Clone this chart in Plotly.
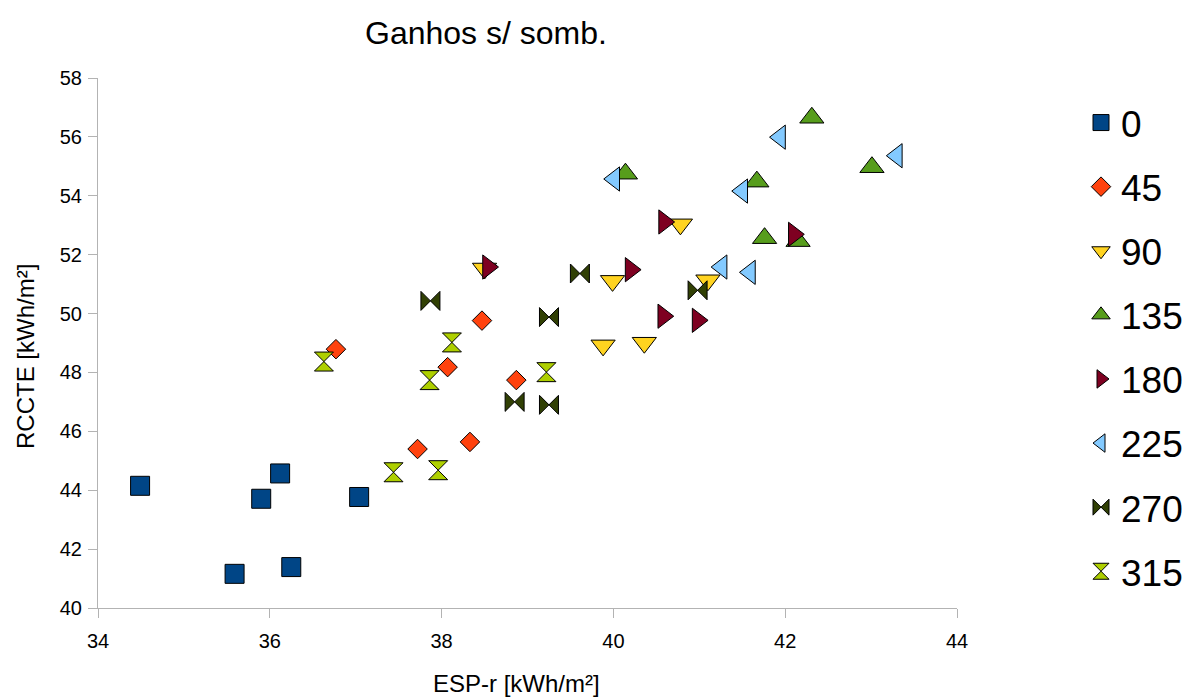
import plotly.graph_objects as go

# Data (ESP-r vs RCCTE, kWh/m²), by orientation
orientations = ["0", "45", "90", "135", "180", "225", "270", "315"]

x_0 = [34.49, 36.12, 35.90, 37.04, 35.59, 36.25]
y_0 = [44.15, 44.57, 43.71, 43.77, 41.16, 41.39]

x_45 = [36.77, 38.47, 38.07, 38.87, 38.33, 37.72]
y_45 = [48.79, 49.76, 48.18, 47.74, 45.64, 45.40]

x_90 = [38.50, 39.99, 39.88, 40.36, 40.78, 41.10]
y_90 = [51.53, 51.11, 48.92, 49.01, 53.03, 51.13]

x_135 = [42.31, 43.01, 40.14, 41.67, 41.76, 42.15]
y_135 = [56.65, 54.97, 54.75, 54.48, 52.56, 52.46]

x_180 = [38.54, 40.59, 40.20, 40.58, 40.98, 42.10]
y_180 = [51.58, 53.11, 51.49, 49.91, 49.77, 52.69]

x_225 = [41.94, 43.30, 40.01, 41.50, 41.26, 41.59]
y_225 = [55.99, 55.36, 54.57, 54.16, 51.58, 51.40]

x_270 = [37.87, 39.25, 38.85, 39.25, 39.61, 40.98]
y_270 = [50.43, 49.88, 47.00, 46.90, 51.36, 50.79]

x_315 = [36.63, 38.12, 37.86, 39.22, 37.44, 37.96]
y_315 = [48.37, 49.02, 47.74, 48.01, 44.61, 44.68]

x_ticks = [34, 36, 38, 40, 42, 44]
y_ticks = [40, 42, 44, 46, 48, 50, 52, 54, 56, 58]

xs = [x_0, x_45, x_90, x_135, x_180, x_225, x_270, x_315]
ys = [y_0, y_45, y_90, y_135, y_180, y_225, y_270, y_315]
colors = ["#004586", "#ff420e", "#ffd320", "#579d1c", "#7e0021", "#83caff", "#314004", "#aecf00"]
symbols = ["square", "diamond", "triangle-down", "triangle-up", "triangle-right",
           "triangle-left", "bowtie", "hourglass"]
sizes = [19, 15, 21, 21, 21, 21, 19, 19]

FONT = "Liberation Sans, Arial, sans-serif"

W, H = 1186, 697
plot_l, plot_r, plot_t, plot_b = 98, 957, 78, 608
pw, ph = plot_r - plot_l, plot_b - plot_t

def px_to_paper(sx, sy):
    return (sx - plot_l) / pw, (plot_b - sy) / ph

fig = go.Figure()
for name, xv, yv, c, s, sz in zip(orientations, xs, ys, colors, symbols, sizes):
    fig.add_trace(go.Scatter(
        x=xv, y=yv, mode="markers", name=name, legendgroup=name,
        marker=dict(symbol=s, size=sz, color=c, line=dict(color="#000000", width=1)),
    ))

tx, ty = px_to_paper(486, 33)
ax_, ay_ = px_to_paper(516, 683)
bx, by = px_to_paper(25, 357)
lx, ly = px_to_paper(1081, 92)

fig.update_layout(
    width=W, height=H,
    margin=dict(l=plot_l, r=W - plot_r, t=plot_t, b=H - plot_b, autoexpand=False),
    paper_bgcolor="white", plot_bgcolor="white",
    font=dict(family=FONT, color="#000000"),
    showlegend=True,
    legend=dict(
        x=lx, xanchor="left", y=ly, yanchor="top",
        font=dict(size=37, family=FONT, color="#000000"),
        tracegroupgap=13, itemsizing="trace", bgcolor="rgba(0,0,0,0)",
    ),
    annotations=[
        dict(text="Ganhos s/ somb.", x=tx, y=ty, xref="paper", yref="paper",
             xanchor="center", yanchor="middle",
             showarrow=False, font=dict(size=32, family=FONT)),
        dict(text="ESP-r [kWh/m²]", x=ax_, y=ay_, xref="paper", yref="paper",
             xanchor="center", yanchor="middle",
             showarrow=False, font=dict(size=24, family=FONT)),
        dict(text="RCCTE [kWh/m²]", x=bx, y=by, xref="paper", yref="paper",
             xanchor="center", yanchor="middle",
             showarrow=False, textangle=-90, font=dict(size=24, family=FONT)),
    ],
)

axis_common = dict(
    showgrid=False, zeroline=False, showline=True, linecolor="#b3b3b3", linewidth=1,
    ticks="outside", ticklen=9, tickcolor="#b3b3b3", tickwidth=1,
    tickfont=dict(size=20, family=FONT, color="#000000"),
)
fig.update_xaxes(range=[34, 44], tickvals=x_ticks, ticktext=[str(v) for v in x_ticks],
                 ticklabelstandoff=6, **axis_common)
fig.update_yaxes(range=[40, 58], tickvals=y_ticks, ticktext=[str(v) for v in y_ticks],
                 ticklabelstandoff=2, **axis_common)

# remove the default page margin so the figure fills the window exactly
fig.write_html("out.html",
               config={"displayModeBar": False},
               post_script="document.body.style.margin='0';document.body.style.overflow='hidden';")
